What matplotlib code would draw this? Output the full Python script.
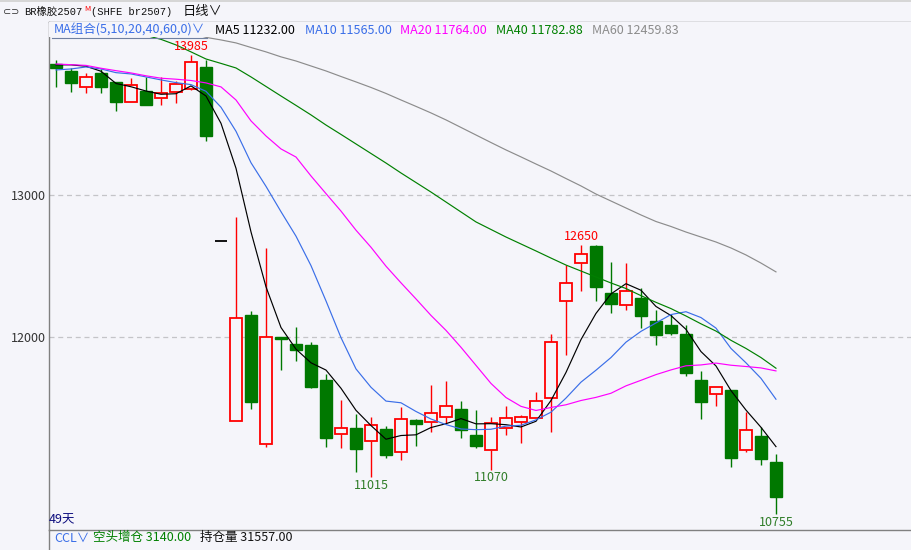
import matplotlib.pyplot as plt
from matplotlib.patches import Rectangle
from matplotlib.lines import Line2D
import numpy as np

plt.rcParams['font.family'] = ['Noto Sans CJK SC', 'DejaVu Sans']

# daily bars, br2507
opens = [13920, 13872, 13762, 13856, 13793, 13656, 13731, 13684, 13727, 13746,
         13898, 12675, 11410, 12157, 11248, 12000, 11953, 11946, 11700, 11318,
         11360, 11269, 11355, 11194, 11419, 11402, 11440, 11496, 11313, 11206,
         11360, 11402, 11431, 11571, 12253, 12520, 12645, 12309, 12225, 12274,
         12115, 12086, 12023, 11700, 11599, 11630, 11206, 11306, 11123]
highs = [13950, 13891, 13860, 13884, 13795, 13821, 13826, 13828, 13804, 13985,
         13949, 12675, 12848, 12185, 12626, 12000, 12072, 11965, 11742, 11559,
         11461, 11440, 11376, 11508, 11428, 11665, 11693, 11552, 11489, 11440,
         11517, 11454, 11615, 12023, 12508, 12650, 12650, 12529, 12522, 12344,
         12192, 12166, 12084, 11763, 11648, 11630, 11473, 11372, 11180]
lows = [13760, 13727, 13715, 13715, 13593, 13655, 13633, 13633, 13645, 13740,
        13382, 12675, 11410, 11496, 11227, 11770, 11833, 11646, 11231, 11224,
        11055, 11015, 11149, 11135, 11238, 11332, 11395, 11294, 11224, 11070,
        11311, 11259, 11431, 11332, 11878, 12328, 12257, 12173, 12194, 12067,
        11948, 12016, 11730, 11428, 11519, 11090, 11194, 11104, 10755]
closes = [13890, 13786, 13828, 13762, 13656, 13774, 13633, 13715, 13781, 13933,
          13417, 12675, 12134, 11547, 12000, 11990, 11913, 11653, 11294, 11360,
          11213, 11381, 11170, 11424, 11388, 11466, 11517, 11350, 11238, 11395,
          11431, 11438, 11550, 11965, 12382, 12586, 12356, 12236, 12325, 12152,
          12018, 12032, 11751, 11547, 11648, 11154, 11346, 11147, 10879]

ma5 = [13915, 13915, 13905, 13870, 13784, 13761, 13731, 13708, 13712, 13767,
       13696, 13504, 13188, 12741, 12355, 12069, 11917, 11821, 11770, 11642,
       11487, 11380, 11284, 11310, 11315, 11366, 11393, 11429, 11392, 11393,
       11386, 11370, 11410, 11556, 11753, 11984, 12168, 12305, 12377, 12331,
       12217, 12153, 12056, 11900, 11799, 11626, 11489, 11368, 11232]
ma10 = [13879, 13886, 13900, 13886, 13860, 13851, 13830, 13809, 13790, 13776,
        13729, 13617, 13448, 13227, 13061, 12883, 12711, 12504, 12256, 11998,
        11778, 11649, 11552, 11540, 11479, 11426, 11387, 11356, 11351, 11354,
        11376, 11382, 11420, 11474, 11573, 11685, 11769, 11858, 11966, 12042,
        12101, 12160, 12180, 12139, 12065, 11922, 11821, 11712, 11565]
ma20 = [13921, 13916, 13911, 13891, 13874, 13858, 13838, 13821, 13814, 13805,
        13788, 13760, 13668, 13521, 13415, 13324, 13267, 13134, 13010, 12887,
        12753, 12633, 12500, 12383, 12270, 12154, 12049, 11930, 11803, 11676,
        11577, 11515, 11486, 11507, 11526, 11556, 11578, 11607, 11659, 11698,
        11738, 11771, 11800, 11806, 11819, 11804, 11795, 11785, 11764]
ma40 = [np.nan] * 6 + [
    14122, 14094, 14055, 14006, 13956, 13925, 13893, 13830, 13763, 13696,
    13630, 13563, 13492, 13426, 13359, 13292, 13225, 13155, 13088, 13021,
    12951, 12881, 12811, 12758, 12705, 12656, 12607, 12557, 12508, 12466,
    12424, 12382, 12343, 12293, 12246, 12202, 12150, 12095, 12044, 11979,
    11922, 11858, 11783]
ma60 = [np.nan] * 9 + [
    14139, 14108, 14090, 14069, 14037, 14006, 13971, 13942, 13907, 13872,
    13833, 13795, 13756, 13714, 13668, 13623, 13577, 13528, 13475, 13422,
    13369, 13317, 13268, 13218, 13169, 13116, 13064, 13007, 12958, 12909,
    12860, 12814, 12779, 12740, 12705, 12670, 12628, 12579, 12522, 12460]

ma_names = ['MA5', 'MA10', 'MA20', 'MA40', 'MA60']
ma_last = ['11232.00', '11565.00', '11764.00', '11782.88', '12459.83']
ma_colors = ['#000000', '#3a6ee8', '#ff00ff', '#008000', '#8c8c8c']

y_ticks = [12000, 13000]
high_marks = [10, 36]      # bar numbers with labelled highs
low_marks = [22, 30, 49]   # bar numbers with labelled lows

BG = '#f5f5fa'
RED = '#ff0000'
GREEN = '#007800'
W, H = 912, 550

fig = plt.figure(figsize=(W / 100, H / 100), dpi=100, facecolor=BG)
ax = fig.add_axes([49 / W, 20 / H, 1 - 49 / W, 508 / H], facecolor=BG)

x = np.arange(1, len(closes) + 1)
o = np.array(opens)
c = np.array(closes)
hi = np.array(highs)
lo = np.array(lows)
bw = 0.84

for xi, oi, hii, loi, ci in zip(x, o, hi, lo, c):
    top, bot = max(oi, ci), min(oi, ci)
    if ci > oi:
        ax.vlines(xi, top, hii, color=RED, lw=1, zorder=2)
        ax.vlines(xi, loi, bot, color=RED, lw=1, zorder=2)
        ax.add_patch(Rectangle((xi - bw / 2, bot), bw, top - bot, fc=BG,
                               ec=RED, lw=1.3, zorder=2))
    elif ci < oi:
        ax.vlines(xi, loi, hii, color=GREEN, lw=1, zorder=2)
        ax.add_patch(Rectangle((xi - bw / 2, bot), bw, top - bot, fc=GREEN,
                               ec=GREEN, lw=1, zorder=2))
    else:
        ax.hlines(ci, xi - bw / 2, xi + bw / 2, color='black', lw=1.3, zorder=2)

for vals, col in zip([ma5, ma10, ma20, ma40, ma60], ma_colors):
    ax.plot(x, vals, color=col, lw=0.85, zorder=3)

for yt in y_ticks:
    ax.axhline(yt, color='#c4c4c8', lw=0.9, ls=(0, (4, 3)), zorder=1)

for k in high_marks:
    ax.annotate(f'{highs[k - 1]}', (k, highs[k - 1]), xytext=(0, 1),
                textcoords='offset points', ha='center', va='bottom',
                color=RED, fontsize=9, zorder=6)
for k in low_marks:
    ax.annotate(f'{lows[k - 1]}', (k, lows[k - 1]), xytext=(0, -1),
                textcoords='offset points', ha='center', va='top',
                color='#2f7d28', fontsize=9, zorder=6)

ax.set_xlim(0.533, 58.07)
ax.set_ylim(10646, 14216)
ax.set_xticks([])
ax.set_yticks(y_ticks, [str(v) for v in y_ticks])
ax.tick_params(axis='y', length=0, pad=2, labelsize=9, labelcolor='#333333')
for s in ['left', 'bottom', 'top']:
    ax.spines[s].set_color('#808080')
    ax.spines[s].set_linewidth(1)
ax.spines['right'].set_visible(False)

# blank strip behind the MA legend row
ax.add_patch(Rectangle((0, 1 - 15 / 508), 1, 15 / 508, transform=ax.transAxes,
                       fc=BG, ec='none', zorder=5))


def ftext(px, py, s, **kw):
    fig.text(px / W, 1 - py / H, s, va='center', ha='left', **kw)


fig.add_artist(Line2D([49 / W, 49 / W], [0, 20 / H], color='#808080', lw=1))
fig.add_artist(Rectangle((0, 1 - 2 / H), 1, 2 / H, fc='#d6d6d6', ec='none'))

# header line
mono = ['Liberation Mono', 'Noto Sans CJK SC']
ftext(3, 12, '⊂⊃', fontsize=7, color='#333333', family=['DejaVu Sans'])
ftext(24, 12, 'BR橡胶2507', fontsize=7.5, color='#111111', family=mono)
ftext(84, 9, 'M', fontsize=5.5, color=RED)
ftext(91, 12, '(SHFE br2507)', fontsize=7.5, color='#111111', family=mono)
ftext(183, 12, '日线∨', fontsize=9.5, color='#111111')

# MA legend row
ftext(54, 30, 'MA组合(5,10,20,40,60,0)∨', fontsize=9, color='#3a6ee8')
fig.add_artist(Line2D([52 / W, 207 / W], [1 - 37.5 / H] * 2, color='#7080a0', lw=0.8))
px_pos = [215, 305, 400, 496, 592]
for px, nm, val, col in zip(px_pos, ma_names, ma_last, ma_colors):
    ftext(px, 30, f'{nm} {val}', fontsize=9, color=col)

# bottom rows
ftext(49, 520, '49天', fontsize=9, color='#101080')
ftext(54, 538, 'CCL∨', fontsize=9, color='#3a6ee8')
ftext(93, 538, '空头增仓 3140.00', fontsize=9, color='#008000')
ftext(200, 538, '持仓量 31557.00', fontsize=9, color='#111111')

fig.savefig('out.png', dpi=100, facecolor=BG)
